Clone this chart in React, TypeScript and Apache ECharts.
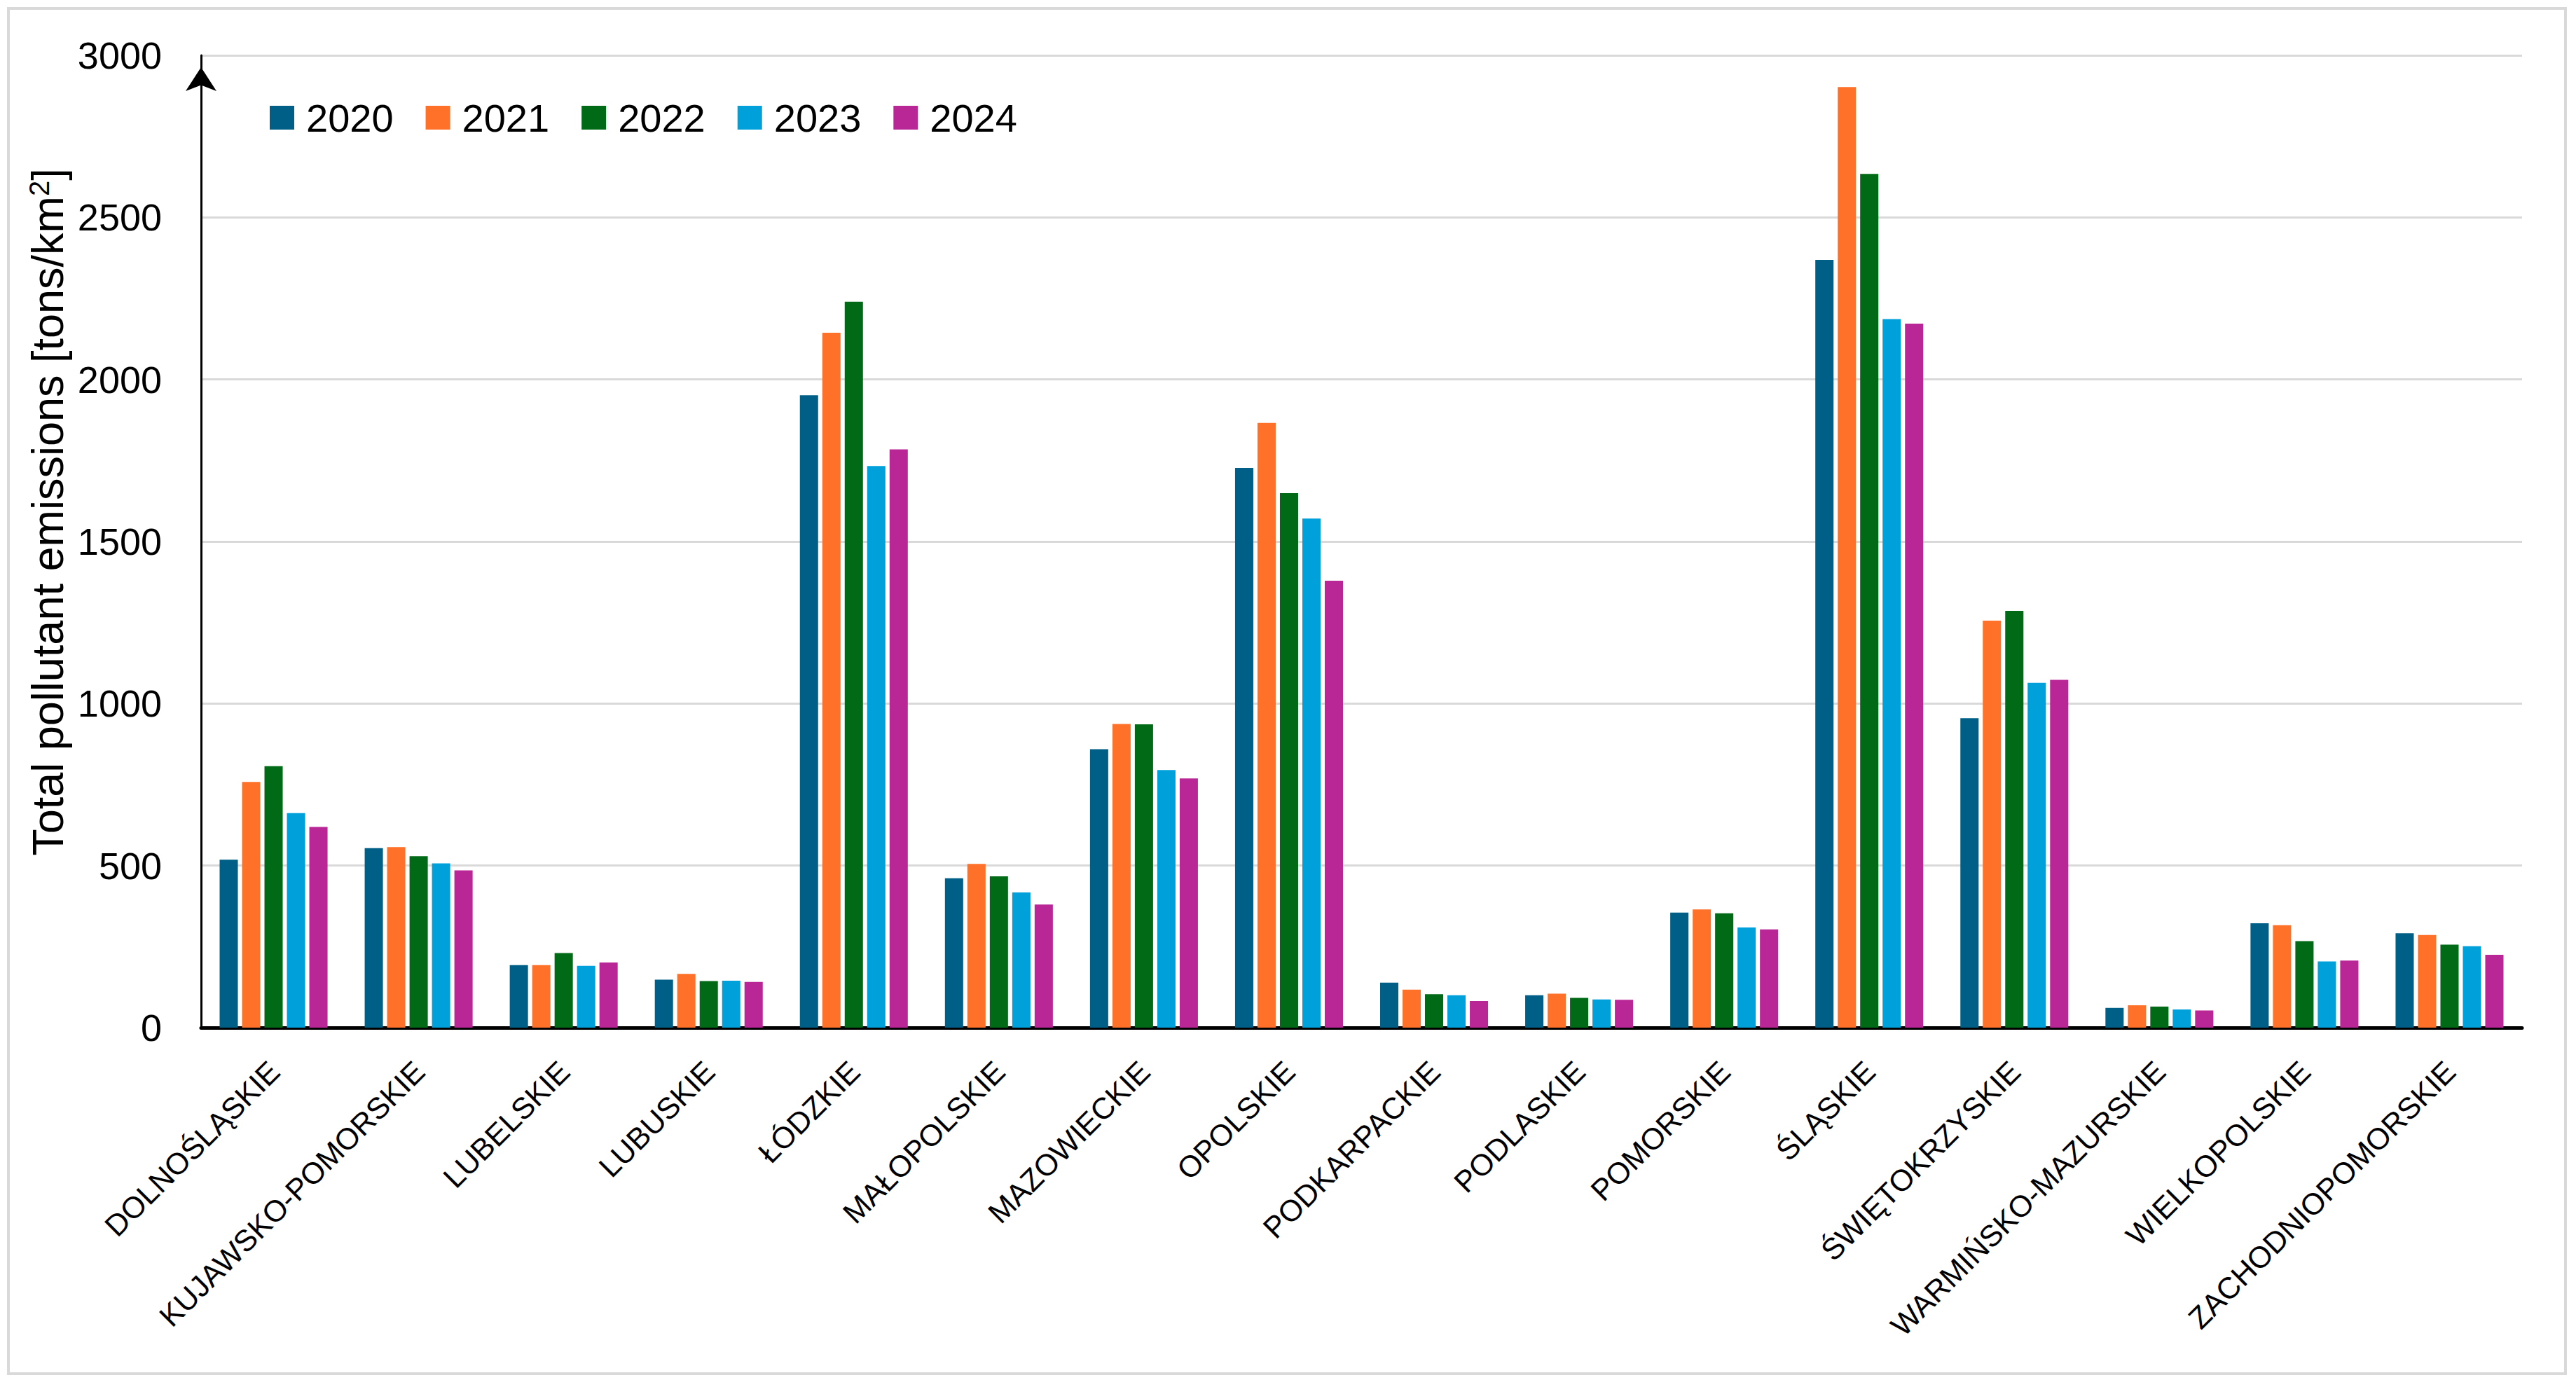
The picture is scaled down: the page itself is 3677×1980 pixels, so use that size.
import React, { useEffect, useRef } from "react";
import * as echarts from "echarts";

const categories = [
  "DOLNOŚLĄSKIE",
  "KUJAWSKO-POMORSKIE",
  "LUBELSKIE",
  "LUBUSKIE",
  "ŁÓDZKIE",
  "MAŁOPOLSKIE",
  "MAZOWIECKIE",
  "OPOLSKIE",
  "PODKARPACKIE",
  "PODLASKIE",
  "POMORSKIE",
  "ŚLĄSKIE",
  "ŚWIĘTOKRZYSKIE",
  "WARMIŃSKO-MAZURSKIE",
  "WIELKOPOLSKIE",
  "ZACHODNIOPOMORSKIE",
];

const years = ["2020", "2021", "2022", "2023", "2024"];

const values2020 = [518, 554, 193, 148, 1951, 461, 859, 1727, 139, 100, 355, 2369, 955, 61, 322, 291];
const values2021 = [758, 557, 193, 166, 2144, 505, 937, 1866, 117, 105, 365, 2902, 1256, 69, 316, 286];
const values2022 = [807, 529, 230, 144, 2240, 467, 936, 1649, 103, 92, 353, 2634, 1286, 65, 267, 256];
const values2023 = [662, 507, 191, 145, 1733, 417, 795, 1571, 100, 87, 309, 2186, 1064, 56, 204, 251];
const values2024 = [619, 485, 201, 141, 1784, 380, 769, 1379, 82, 86, 303, 2172, 1073, 53, 207, 225];

const seriesValues = [values2020, values2021, values2022, values2023, values2024];
const colors = ["#005f86", "#ff7129", "#006a16", "#00a1da", "#b92696"];

const yAxisTitle = "Total pollutant emissions [tons/km{sup|2}]";
const FONT = "'Liberation Sans', Arial, sans-serif";

export default function App() {
  const ref = useRef<HTMLDivElement>(null);

  useEffect(() => {
    if (!ref.current) return;
    const chart = echarts.init(ref.current, undefined, { renderer: "svg" });
    chart.setOption({
      animation: false,
      backgroundColor: "#ffffff",
      textStyle: { fontFamily: FONT },
      color: colors,
      graphic: [
        {
          type: "rect",
          shape: { x: 12, y: 12, width: 3650, height: 1949 },
          style: { fill: "none", stroke: "#d9d9d9", lineWidth: 4 },
          silent: true,
        },
      ],
      legend: {
        left: 385,
        top: 140,
        padding: 0,
        itemWidth: 35,
        itemHeight: 34,
        itemGap: 46,
        icon: "rect",
        data: years,
        textStyle: {
          fontSize: 56,
          color: "#000000",
          fontFamily: FONT,
          padding: [0, 0, 0, 12],
        },
      },
      grid: {
        left: 287,
        right: 77,
        top: 79,
        bottom: 513,
        containLabel: false,
      },
      xAxis: {
        type: "category",
        data: categories,
        axisTick: { show: false },
        axisLine: { show: true, lineStyle: { color: "#000000", width: 5 } },
        axisLabel: {
          rotate: 45,
          fontSize: 43,
          color: "#000000",
          fontFamily: FONT,
          margin: 26,
          interval: 0,
          align: "right",
          verticalAlign: "top",
          padding: [0, 20, 0, 0],
        },
      },
      yAxis: {
        type: "value",
        min: 0,
        max: 3000,
        interval: 500,
        name: yAxisTitle,
        nameLocation: "middle",
        nameRotate: 90,
        nameGap: 183,
        nameTextStyle: {
          fontSize: 63,
          color: "#000000",
          fontFamily: FONT,
          padding: [0, 0, 0, 84],
          rich: {
            sup: { fontSize: 40, verticalAlign: "top", padding: [0, 0, 25, 0], color: "#000000", fontFamily: FONT },
          },
        },
        axisLine: {
          show: true,
          lineStyle: { color: "#000000", width: 3 },
          symbol: ["none", "arrow"],
          symbolSize: [33, 34],
          symbolOffset: [0, -17],
        },
        axisTick: { show: false },
        axisLabel: {
          fontSize: 54,
          color: "#000000",
          fontFamily: FONT,
          margin: 56,
          formatter: (v: number) => String(v),
        },
        splitLine: { show: true, lineStyle: { color: "#d9d9d9", width: 3 } },
      },
      series: years.map((y, i) => ({
        name: y,
        type: "bar",
        data: seriesValues[i],
        barGap: "23%",
        barCategoryGap: "25.6%",
        itemStyle: { color: colors[i] },
      })),
    });
    return () => chart.dispose();
  }, []);

  return (
    <div
      ref={ref}
      style={{ position: "absolute", left: 0, top: 0, width: 3677, height: 1980, background: "#fff" }}
    />
  );
}
